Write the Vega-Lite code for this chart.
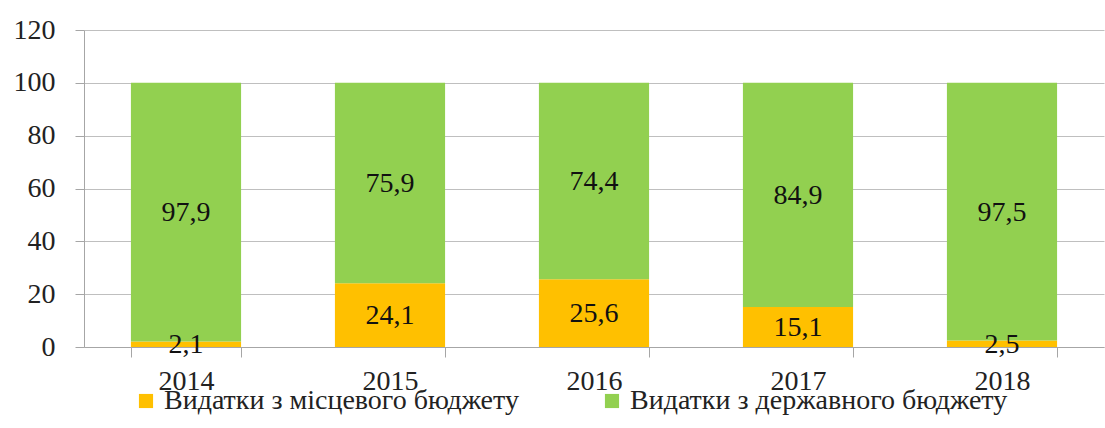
{
  "$schema": "https://vega.github.io/schema/vega-lite/v6.json",
  "autosize": "none",
  "width": 1020,
  "height": 317,
  "padding": {"left": 84, "top": 30, "right": 1, "bottom": 81},
  "background": "white",
  "config": {
    "font": "Liberation Serif",
    "view": {"stroke": null},
    "axis": {"labelFont": "Liberation Serif"},
    "legend": {"labelFont": "Liberation Serif"},
    "text": {"font": "Liberation Serif"}
  },
  "data": {
    "values": [
      {"year": "2014", "series": "Видатки з місцевого бюджету", "k": 1, "value": 2.1, "label": "2,1"},
      {"year": "2014", "series": "Видатки з державного бюджету", "k": 2, "value": 97.9, "label": "97,9"},
      {"year": "2015", "series": "Видатки з місцевого бюджету", "k": 1, "value": 24.1, "label": "24,1"},
      {"year": "2015", "series": "Видатки з державного бюджету", "k": 2, "value": 75.9, "label": "75,9"},
      {"year": "2016", "series": "Видатки з місцевого бюджету", "k": 1, "value": 25.6, "label": "25,6"},
      {"year": "2016", "series": "Видатки з державного бюджету", "k": 2, "value": 74.4, "label": "74,4"},
      {"year": "2017", "series": "Видатки з місцевого бюджету", "k": 1, "value": 15.1, "label": "15,1"},
      {"year": "2017", "series": "Видатки з державного бюджету", "k": 2, "value": 84.9, "label": "84,9"},
      {"year": "2018", "series": "Видатки з місцевого бюджету", "k": 1, "value": 2.5, "label": "2,5"},
      {"year": "2018", "series": "Видатки з державного бюджету", "k": 2, "value": 97.5, "label": "97,5"}
    ]
  },
  "transform": [
    {"stack": "value", "groupby": ["year"], "sort": [{"field": "k", "order": "ascending"}], "as": ["y0", "y1"]},
    {"calculate": "(datum.y0 + datum.y1) / 2", "as": "mid"}
  ],
  "encoding": {
    "x": {
      "field": "year",
      "type": "nominal",
      "title": null,
      "scale": {"paddingInner": 0.46, "paddingOuter": 0.23},
      "axis": {
        "labelAngle": 0,
        "labelFont": "Liberation Serif",
        "labelFontSize": 28,
        "labelColor": "#222222",
        "labelPadding": 10,
        "tickBand": "extent",
        "tickSize": 10,
        "tickColor": "#a6a6a6",
        "domainColor": "#a6a6a6",
        "grid": false
      }
    }
  },
  "layer": [
    {
      "mark": {"type": "bar"},
      "encoding": {
        "y": {
          "field": "y0",
          "type": "quantitative",
          "title": null,
          "scale": {"domain": [0, 120]},
          "axis": {
            "values": [0, 20, 40, 60, 80, 100, 120],
            "labelFont": "Liberation Serif",
            "labelFontSize": 28,
            "labelColor": "#222222",
            "labelPadding": 20,
            "tickSize": 9,
            "tickColor": "#a6a6a6",
            "domainColor": "#a6a6a6",
            "gridColor": "#bfbfbf",
            "gridWidth": 1.2
          }
        },
        "y2": {"field": "y1"},
        "color": {
          "field": "series",
          "type": "nominal",
          "scale": {
            "domain": ["Видатки з місцевого бюджету", "Видатки з державного бюджету"],
            "range": ["#FFC000", "#92D050"]
          },
          "legend": {
            "title": null,
            "orient": "none",
            "direction": "horizontal",
            "legendX": 48,
            "legendY": 357,
            "symbolType": "square",
            "symbolSize": 200,
            "symbolStrokeWidth": 0,
            "labelFont": "Liberation Serif",
            "labelFontSize": 28,
            "labelColor": "#222222",
            "labelLimit": 0,
            "labelOffset": 4,
            "columnPadding": 79
          }
        }
      }
    },
    {
      "mark": {"type": "text", "font": "Liberation Serif", "fontSize": 28, "color": "#111111", "baseline": "middle", "align": "center", "dy": 1},
      "encoding": {
        "y": {"field": "mid", "type": "quantitative"},
        "text": {"field": "label"}
      }
    }
  ]
}
